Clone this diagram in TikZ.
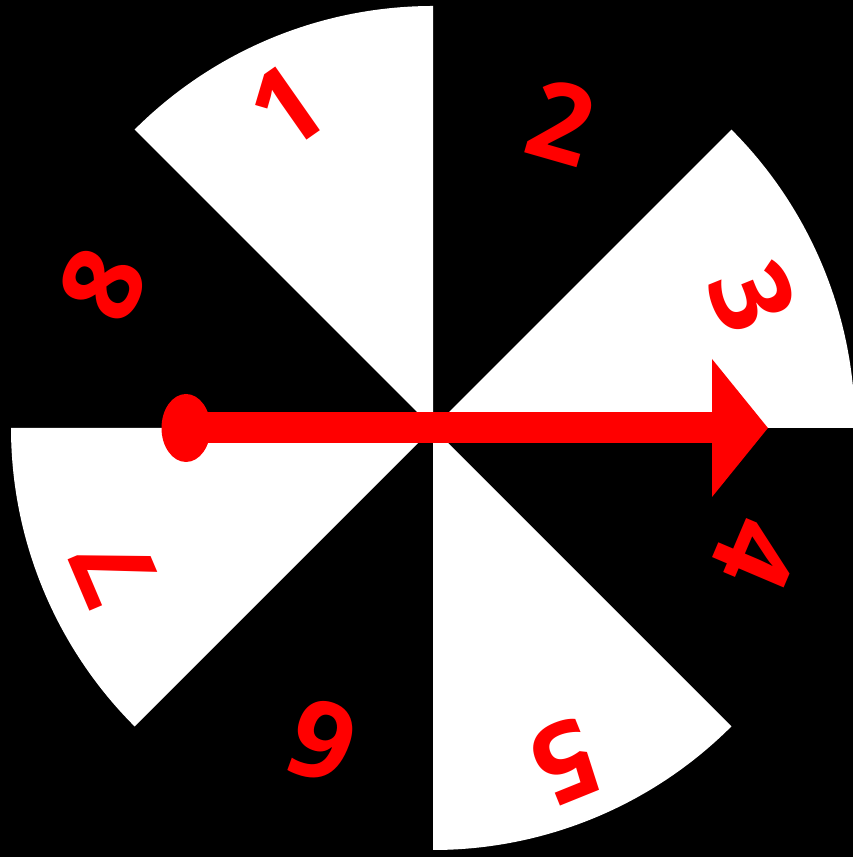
\documentclass[tikz,border=0pt]{standalone}
\usepackage{fontspec}
\setmainfont{Open Sans}
\usetikzlibrary{arrows.meta,shapes.geometric}

\begin{document}
\begin{tikzpicture}[
x=0.02cm, y=0.02cm,
slice/.style={fill=white},
num/.style={text=red, font=\fontsize{62}{62}\selectfont\bfseries, inner sep=0pt},
needle/.style={-{Triangle[length=1.12cm, width=2.7cm]}, line width=0.62cm, red},
pivot/.style={ellipse, fill=red, minimum width=0.98cm, minimum height=1.36cm, inner sep=0pt}
]
\fill[black] (0,0) rectangle (853,857);
\useasboundingbox (0,0) rectangle (853,857);
\coordinate (hub) at (433,429);
% white slices
\foreach \a in {90,0,-90,180}
  \fill[slice] (hub) -- ++(\a:422) arc (\a:\a+45:422) -- cycle;
% numbers
\foreach \n/\x/\y/\r in {1/287/750/35, 2/561/735/-16, 3/752/560/-68, 4/756/303/-113,
  5/565/95/-158, 6/322/116/160, 7/115/287/113, 8/103/573/66}
  \node[num, rotate=\r] (n\n) at (\x,\y) {\n};
% pointer
\node[pivot] (pin) at (186,429) {};
\coordinate (tip) at (768,429);
\draw[needle] (pin.center) -- (tip);
\end{tikzpicture}
\end{document}
